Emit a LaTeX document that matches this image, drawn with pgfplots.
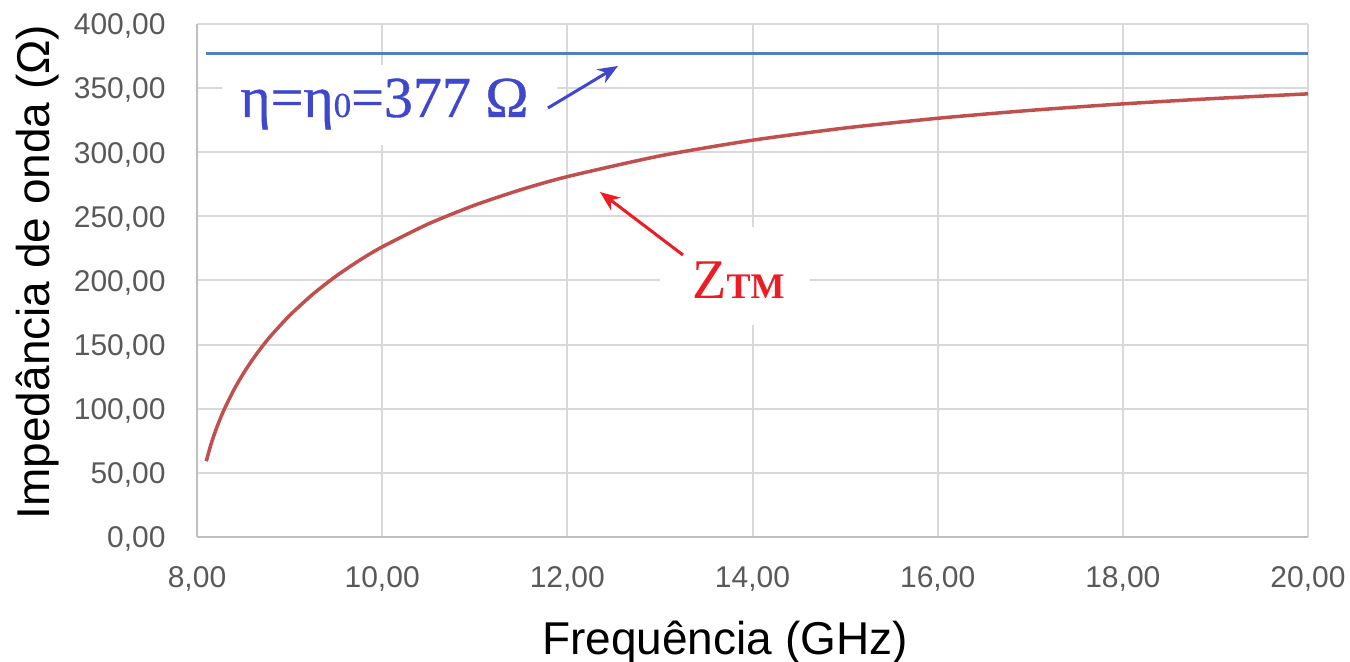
\documentclass[border=0pt]{standalone}
\usepackage{fontspec}
\setmainfont{Liberation Sans}
\newfontfamily\serif{Liberation Serif}
\newfontfamily\serifheavy[FakeBold=0.7]{Liberation Serif}
\usepackage{pgfplots}
\pgfplotsset{compat=1.18}
\usetikzlibrary{arrows.meta}

\definecolor{gridgray}{HTML}{D9D9D9}
\definecolor{axisgray}{HTML}{BFBFBF}
\definecolor{ticktext}{HTML}{595959}
\definecolor{etablue}{HTML}{4F81BD}
\definecolor{ztmred}{HTML}{C0504D}
\definecolor{annblue}{HTML}{3F48CC}
\definecolor{annred}{HTML}{ED1C24}

\begin{document}
\begin{tikzpicture}
\path[use as bounding box] (-98.5pt,-62.5pt) rectangle (576.5pt,268.5pt);
\begin{axis}[
  at={(0,0)}, anchor=south west,
  scale only axis,
  width=555.5pt, height=256.5pt,
  xmin=8, xmax=20, ymin=0, ymax=400,
  xtick={8,10,...,20},
  ytick={0,50,...,400},
  major tick length=0pt,
  axis x line*=bottom, axis y line*=left,
  axis line style={draw=axisgray, line width=1pt, -},
  grid=major,
  major grid style={draw=gridgray, line width=1pt},
  /pgf/number format/.cd, fixed, fixed zerofill, precision=2, use comma, assume math mode=true,
  /pgfplots/.cd,
  tick label style={font=\fontsize{15}{15}\selectfont, text=ticktext},
  xticklabel style={anchor=base, inner sep=0pt, yshift=-25.5pt},
  yticklabel style={anchor=base east, inner sep=0pt, xshift=-15.5pt, yshift=-5.4pt},
  clip=false,
]
% white text boxes masking the grid behind the annotations
\fill[white] (axis cs:8.27,305.7) rectangle (axis cs:11.888,368.0);
\fill[white] (axis cs:13.001,165.3) rectangle (axis cs:14.621,241.7);

% free-space impedance
\addplot[etablue, line width=1.5pt] coordinates {(8.1,377) (20,377)};

% TM wave impedance
\addplot[ztmred, line width=1.75pt, smooth, tension=0.4] coordinates {
  (8.10,59.06) (8.15,72.00) (8.20,82.76) (8.25,92.11) (8.30,100.44)
  (8.40,114.95) (8.50,127.39) (8.60,138.35) (8.70,148.16) (8.80,157.06)
  (9.00,172.71) (9.25,189.26) (9.50,203.32) (9.75,215.50) (10.00,226.20)
  (10.50,244.18) (11.00,258.75) (11.50,270.83) (12.00,281.00) (13.00,297.16)
  (14.00,309.39) (15.00,318.91) (16.00,326.49) (17.00,332.65) (18.00,337.72)
  (19.00,341.95) (20.00,345.53)
};

% annotations
\draw[annblue, line width=1.5pt, -{Stealth[length=10pt, width=8pt]}]
  (axis cs:11.791,334.5) -- (axis cs:12.547,367.3);
\node[anchor=base west, inner sep=0pt, text=annblue,
      font=\serifheavy\fontsize{29}{29}\selectfont]
  at (axis cs:8.464,327.5) {η=η{\fontsize{17.5}{17.5}\selectfont 0}=377 Ω};

\draw[annred, line width=1.5pt, -{Stealth[length=10pt, width=8pt]}]
  (axis cs:13.249,219.9) -- (axis cs:12.353,269.0);
\node[anchor=base west, inner sep=0pt, text=annred,
      font=\serif\fontsize{28}{28}\selectfont]
  at (axis cs:13.347,185.6) {Z{\bfseries\fontsize{18}{18}\selectfont TM}};
\end{axis}

% axis titles
\node[anchor=base, inner sep=0pt, font=\fontsize{23}{23}\selectfont]
  at (264pt,-59pt) {Frequência (GHz)};
\node[anchor=base, rotate=90, inner sep=0pt, font=\fontsize{23}{23}\selectfont]
  at (-73.5pt,132.5pt) {Impedância de onda (Ω)};
\end{tikzpicture}
\end{document}
